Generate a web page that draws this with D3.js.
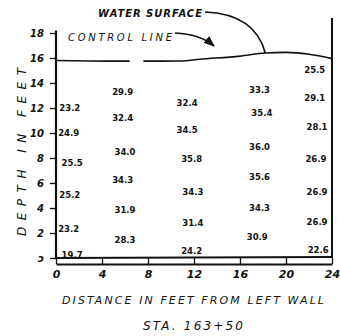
<!DOCTYPE html>
<html><head><meta charset="utf-8">
<script src="https://cdn.jsdelivr.net/npm/d3@7"></script>
<style>
html,body{margin:0;padding:0;background:#fff;}
svg{display:block;}
text{font-family:"DejaVu Sans",sans-serif;fill:#111;}
</style></head>
<body><svg id="c" width="340" height="336"></svg>
<script>
// ---- data ----
const distTicks = [0, 4, 8, 12, 16, 20, 24];
const depthTicks = [0, 2, 4, 6, 8, 10, 12, 14, 16, 18];
// water surface profile (distance ft, depth ft); null = gap in the drawn line
const surfaceDist  = [0, 3, 6.4, 7.0, 7.6, 10.8, 12.5, 16, 18.2, 20, 22, 24];
const surfaceDepth = [15.8, 15.76, 15.75, null, 15.75, 15.76, 15.9, 16.15, 16.4, 16.45, 16.3, 15.95];
// velocity readings
const velDist  = [1.2, 1.1, 1.4, 1.2, 1.1, 1.4,
                  5.8, 5.8, 6.0, 5.8, 6.0, 6.0,
                  11.4, 11.4, 11.8, 11.9, 11.9, 11.8,
                  17.7, 17.9, 17.7, 17.7, 17.7, 17.5,
                  22.5, 22.5, 22.7, 22.6, 22.7, 22.7, 22.8];
const velDepth = [12.0, 10.0, 7.6, 5.0, 2.3, 0.25,
                  13.3, 11.2, 8.5, 6.2, 3.8, 1.4,
                  12.4, 10.2, 7.9, 5.3, 2.8, 0.55,
                  13.4, 11.6, 8.9, 6.5, 4.0, 1.7,
                  15.0, 12.8, 10.5, 7.9, 5.3, 2.9, 0.6];
const velText  = ["23.2", "24.9", "25.5", "25.2", "23.2", "19.7",
                  "29.9", "32.4", "34.0", "34.3", "31.9", "28.3",
                  "32.4", "34.5", "35.8", "34.3", "31.4", "24.2",
                  "33.3", "35.4", "36.0", "35.6", "34.3", "30.9",
                  "25.5", "29.1", "28.1", "26.9", "26.9", "26.9", "22.6"];
const xTitle = "DISTANCE IN FEET FROM LEFT WALL";
const yTitle = "DEPTH IN FEET";
const station = "STA. 163+50";
const note1 = "WATER SURFACE";
const note2 = "CONTROL LINE";

// ---- drawing ----
const svg = d3.select("#c");
const x = d3.scaleLinear().domain([0, 24]).range([56, 332]);
const y = d3.scaleLinear().domain([0, 18]).range([258, 33]);
const ink = "#111";

// floor line
svg.append("line").attr("x1", x(0)).attr("x2", x(24))
  .attr("y1", y(0)).attr("y2", y(0) - 1).attr("stroke", ink).attr("stroke-width", 2);

// right wall
svg.append("line").attr("x1", x(24)).attr("x2", x(24))
  .attr("y1", 18).attr("y2", y(0)).attr("stroke", ink).attr("stroke-width", 2);

// y axis
const yAx = svg.append("g").attr("transform", `translate(${x(0)},0)`)
  .call(d3.axisLeft(y).tickValues(depthTicks).tickSize(6).tickSizeOuter(0).tickPadding(6)
        .tickFormat(d => d === 0 ? "\u0254" : d));
yAx.select(".domain").attr("stroke", ink).attr("stroke-width", 2.2)
  .attr("d", `M0,${y(18.2)}V${y(0)}`);
yAx.selectAll(".tick line").attr("stroke", ink).attr("stroke-width", 1.3);
yAx.selectAll(".tick text").attr("font-size", 10).attr("font-style", "italic")
  .attr("font-weight", "bold").attr("fill", ink).attr("font-family", "DejaVu Sans");

// x axis (separate line below the floor, ticks upward)
const xAx = svg.append("g").attr("transform", `translate(0,${y(0) + 6})`)
  .call(d3.axisBottom(x).tickValues(distTicks).tickSize(-6).tickSizeOuter(0).tickPadding(6));
xAx.select(".domain").attr("stroke", ink).attr("stroke-width", 2);
xAx.selectAll(".tick line").attr("stroke", ink).attr("stroke-width", 1.3);
xAx.selectAll(".tick text").attr("font-size", 11).attr("font-style", "italic")
  .attr("font-weight", "bold").attr("fill", ink).attr("font-family", "DejaVu Sans");

// water surface
const pts = surfaceDist.map((d, i) => [d, surfaceDepth[i]]);
svg.append("path").datum(pts)
  .attr("d", d3.line().defined(d => d[1] !== null).x(d => x(d[0])).y(d => y(d[1])).curve(d3.curveMonotoneX))
  .attr("fill", "none").attr("stroke", ink).attr("stroke-width", 1.6);

// velocity labels
svg.append("g").selectAll("text").data(velText).join("text")
  .attr("x", (d, i) => x(velDist[i]))
  .attr("y", (d, i) => y(velDepth[i]))
  .attr("dy", "0.35em")
  .attr("text-anchor", "middle")
  .attr("font-size", 8.5).attr("font-weight", "bold")
  .text(d => d);

// titles
svg.append("text").attr("x", 193).attr("y", 304).attr("text-anchor", "middle")
  .attr("font-size", 11).attr("font-style", "italic").attr("textLength", 262)
  .attr("lengthAdjust", "spacing").text(xTitle);
svg.append("text").attr("x", 193).attr("y", 330).attr("text-anchor", "middle")
  .attr("font-size", 12).attr("font-style", "italic").attr("textLength", 100)
  .attr("lengthAdjust", "spacing").text(station);
svg.append("text").attr("transform", "translate(26,152) rotate(-90)").attr("text-anchor", "middle")
  .attr("font-size", 12).attr("font-style", "italic").attr("textLength", 168)
  .attr("lengthAdjust", "spacing").text(yTitle);

// annotations
svg.append("text").attr("x", 98).attr("y", 17).attr("font-size", 10).attr("font-weight", "bold")
  .attr("font-style", "italic").attr("textLength", 104).attr("lengthAdjust", "spacing").text(note1);
svg.append("text").attr("x", 68).attr("y", 41).attr("font-size", 10)
  .attr("font-style", "italic").attr("textLength", 104).attr("lengthAdjust", "spacing").text(note2);

svg.append("defs").append("marker").attr("id", "ah").attr("viewBox", "0 0 10 10")
  .attr("refX", 9).attr("refY", 5).attr("markerWidth", 7).attr("markerHeight", 7)
  .attr("orient", "auto").append("path").attr("d", "M0,1L10,5L0,9z").attr("fill", ink);

svg.append("path").attr("d", `M205,12 Q255,14 ${x(18.2)},${y(16.4)}`)
  .attr("fill", "none").attr("stroke", ink).attr("stroke-width", 1.6);
svg.append("path").attr("d", "M175,33 Q200,34 214,46")
  .attr("fill", "none").attr("stroke", ink).attr("stroke-width", 1.6).attr("marker-end", "url(#ah)");
</script></body></html>
